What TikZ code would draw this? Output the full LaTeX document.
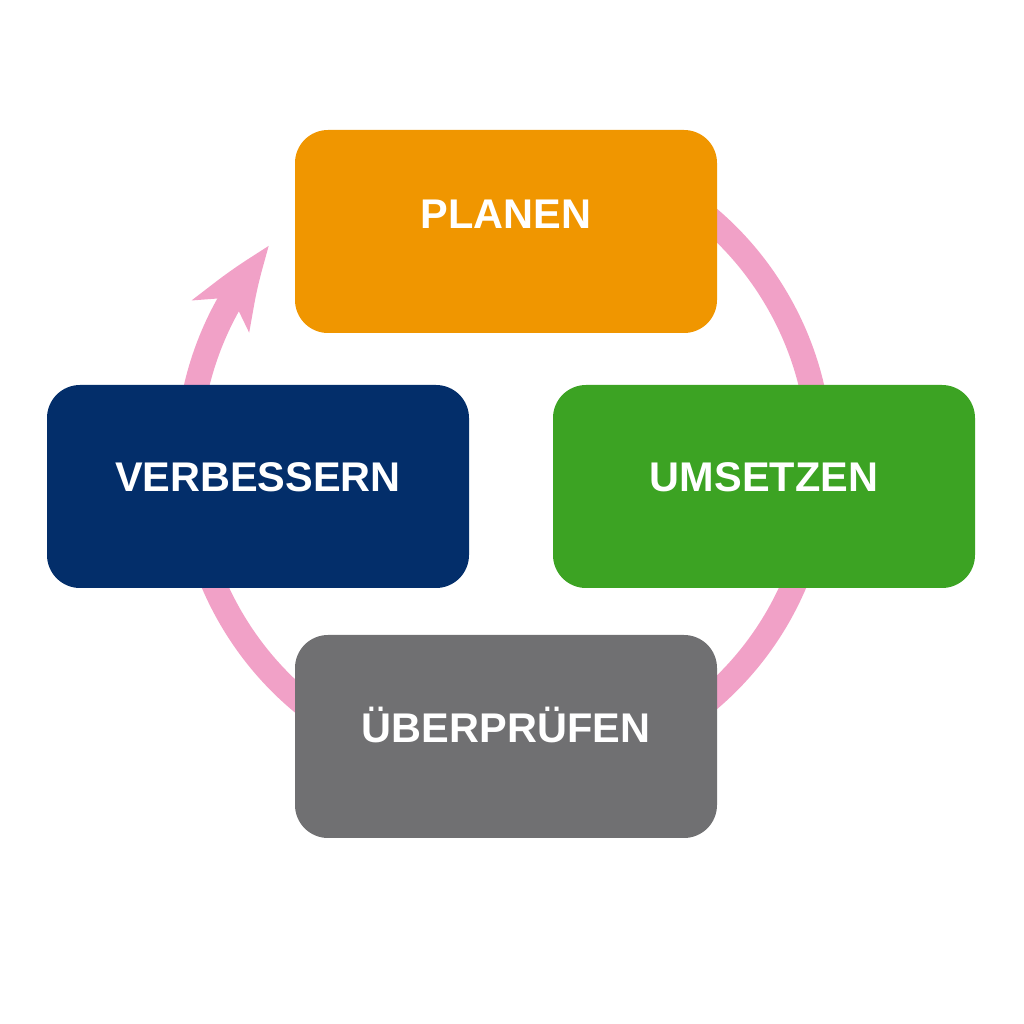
\documentclass[tikz,border=0pt]{standalone}
\usepackage{fontspec}
\setmainfont{Liberation Sans}
\usepackage{xcolor}
\usepackage{tikz}
\usetikzlibrary{arrows.meta,bending}

\definecolor{PlanOrange}{RGB}{240,150,0}
\definecolor{DoGreen}{RGB}{60,163,35}
\definecolor{CheckGray}{RGB}{112,112,114}
\definecolor{ActBlue}{RGB}{3,46,106}
\definecolor{RingPink}{RGB}{241,161,199}

\begin{document}
\begin{tikzpicture}[thick,
		box/.style={rounded corners=0.33cm, minimum width=4.22cm, minimum height=2.03cm, inner sep=0pt,
			text=white, font=\bfseries\fontsize{11.8}{14}\selectfont, text height=8.45pt, text depth=5.4pt},
		ring/.style={line width=0.25cm, RingPink}]
		\useasboundingbox (0,0) rectangle (10.24,10.24);
		% ring
		\draw[ring, -{Stealth[length=0.85cm, width=0.63cm, inset=0.21cm, bend]}] (5.04,5.65) ++(120:3.16)
			arc[start angle=120, end angle=-222.3, radius=3.16];
		% plan
		\node[box, fill=PlanOrange, text depth=10pt] (planen) at (5.06,7.925) {PLANEN};
		% do
		\node[box, fill=DoGreen] (umsetzen) at (7.64,5.375) {UMSETZEN};
		% check
		\node[box, fill=CheckGray, text depth=4.8pt] (ueberpruefen) at (5.06,2.875) {ÜBERPRÜFEN};
		% act
		\node[box, fill=ActBlue] (verbessern) at (2.58,5.375) {VERBESSERN};
	\end{tikzpicture}
\end{document}
